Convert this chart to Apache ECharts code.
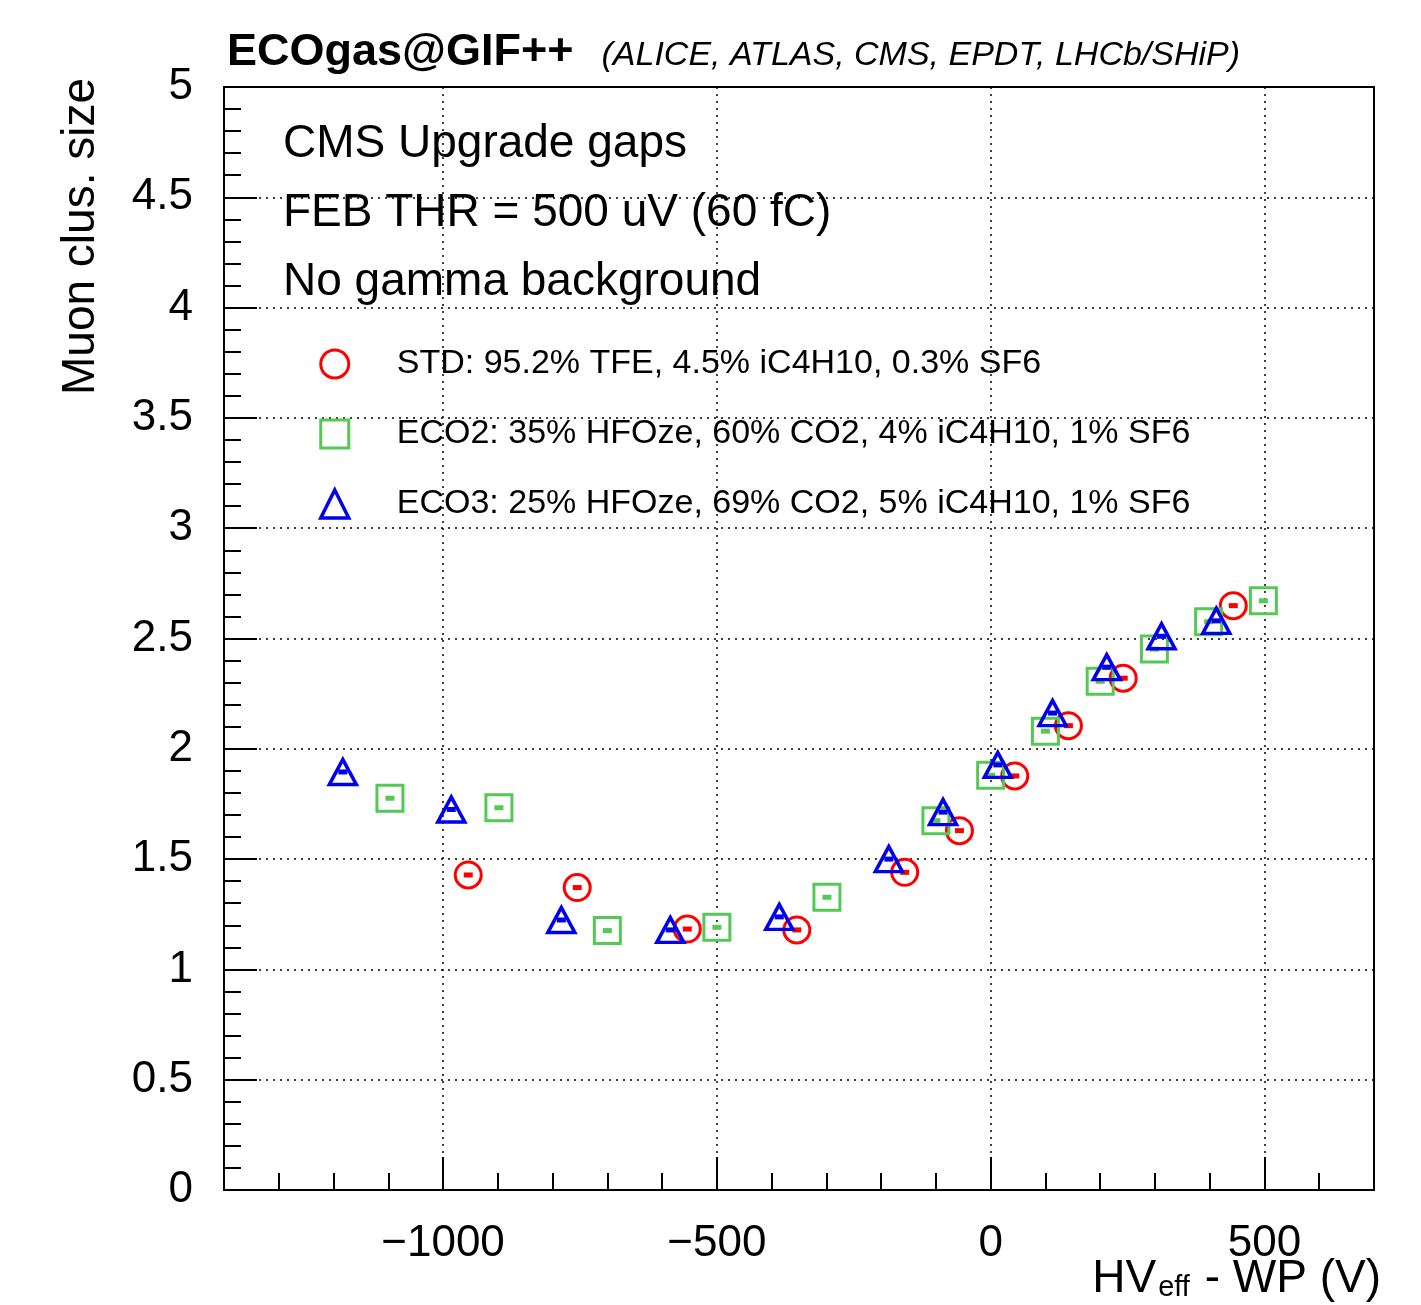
<!DOCTYPE html>
<html>
<head>
<meta charset="utf-8">
<script src="https://cdn.jsdelivr.net/npm/echarts@6/dist/echarts.min.js"></script>
<style>
  html, body { margin: 0; padding: 0; background: #fff; }
  #chart { width: 1421px; height: 1305px; }
</style>
</head>
<body>
<div id="chart"></div>
<script>
const stdX = [-954, -755, -554, -354, -157, -57, 44, 142, 242, 443];
const stdY = [1.428, 1.371, 1.183, 1.179, 1.44, 1.629, 1.877, 2.105, 2.32, 2.649];
const eco2X = [-1097, -898, -700, -500, -299, -100, 0, 100, 200, 299, 398, 498];
const eco2Y = [1.776, 1.733, 1.176, 1.191, 1.327, 1.674, 1.88, 2.08, 2.306, 2.452, 2.576, 2.671];
const eco3X = [-1183, -985, -784, -585, -386, -186, -87, 13, 113, 212, 312, 412];
const eco3Y = [1.895, 1.725, 1.224, 1.179, 1.238, 1.5, 1.713, 1.927, 2.162, 2.37, 2.51, 2.58];

const seriesNames = [
  "STD: 95.2% TFE, 4.5% iC4H10, 0.3% SF6",
  "ECO2: 35% HFOze, 60% CO2, 4% iC4H10, 1% SF6",
  "ECO3: 25% HFOze, 69% CO2, 5% iC4H10, 1% SF6"
];
const infoLines = ["CMS Upgrade gaps", "FEB THR = 500 uV (60 fC)", "No gamma background"];

const RED = "#ff0000", GREEN = "#55c855", BLUE = "#0000ee";
const FONT = "Liberation Sans";

const pairs = (xs, ys) => xs.map((x, i) => [x, ys[i]]);

function markerSeries(name, xs, ys, symbol, size, color, bw) {
  return {
    name: name,
    type: "scatter",
    symbol: symbol,
    symbolSize: size,
    data: pairs(xs, ys),
    itemStyle: { color: "rgba(0,0,0,0)", borderColor: color, borderWidth: bw, opacity: 1 },
    emphasis: { disabled: true }
  };
}
// small dash drawn at the centre of each marker
function dashSeries(xs, ys, color) {
  return {
    type: "scatter",
    symbol: "rect",
    symbolSize: [9, 5],
    data: pairs(xs, ys),
    itemStyle: { color: color, opacity: 1 },
    emphasis: { disabled: true }
  };
}

const chart = echarts.init(document.getElementById("chart"));

const gridLine = { show: true, lineStyle: { color: "#000", width: 1.5, type: [2, 5] } };

chart.setOption({
  animation: false,
  textStyle: { fontFamily: FONT },
  title: {
    left: 222,
    top: 25,
    text: "{a|ECOgas@GIF++}{b|(ALICE, ATLAS, CMS, EPDT, LHCb/SHiP)}",
    textStyle: {
      rich: {
        a: { fontFamily: FONT, fontSize: 45, fontWeight: "bold", color: "#000" },
        b: { fontFamily: FONT, fontSize: 34, fontStyle: "italic", fontWeight: "normal", color: "#000", padding: [6, 0, 0, 28] }
      }
    }
  },
  grid: {
    left: 224, right: 47, top: 87, bottom: 115,
    show: true, borderColor: "#000", borderWidth: 2, backgroundColor: "#fff"
  },
  legend: {
    orient: "vertical",
    left: 314,
    top: 342,
    itemWidth: 28,
    itemHeight: 28,
    itemGap: 36,
    selectedMode: false,
    textStyle: { fontFamily: FONT, fontSize: 34, color: "#000", lineHeight: 34, padding: [0, 0, 0, 43] },
    data: [
      { name: seriesNames[0], icon: "circle", itemStyle: { color: "rgba(0,0,0,0)", borderColor: RED, borderWidth: 3 } },
      { name: seriesNames[1], icon: "rect", itemStyle: { color: "rgba(0,0,0,0)", borderColor: GREEN, borderWidth: 3 } },
      { name: seriesNames[2], icon: "triangle", itemStyle: { color: "rgba(0,0,0,0)", borderColor: BLUE, borderWidth: 3.5 } }
    ]
  },
  xAxis: {
    type: "value",
    min: -1400,
    max: 700,
    axisLine: { show: true, onZero: false, lineStyle: { color: "#000", width: 2 } },
    axisTick: { show: true, inside: true, length: 33, lineStyle: { color: "#000", width: 2 } },
    minorTick: { show: true, splitNumber: 5, length: 17, lineStyle: { color: "#000", width: 2 } },
    splitLine: gridLine,
    axisLabel: {
      showMinLabel: false, showMaxLabel: false,
      margin: 32, fontSize: 44, color: "#000", fontFamily: FONT,
      formatter: (v) => String(v).replace("-", "\u2212")
    }
  },
  yAxis: {
    type: "value",
    min: 0,
    max: 5,
    interval: 0.5,
    axisLine: { show: true, onZero: false, lineStyle: { color: "#000", width: 2 } },
    axisTick: { show: true, inside: true, length: 33, lineStyle: { color: "#000", width: 2 } },
    minorTick: { show: true, splitNumber: 5, length: 17, lineStyle: { color: "#000", width: 2 } },
    splitLine: gridLine,
    axisLabel: { margin: 31, fontSize: 44, color: "#000", fontFamily: FONT }
  },
  graphic: [
    {
      type: "text", left: 58, top: 78,
      style: { text: "Muon clus. size", font: "46px " + FONT, fill: "#000" },
      rotation: Math.PI / 2, originX: 0, originY: 0
    },
    {
      type: "text", right: 40, top: 1256,
      style: {
        text: "{m|HV}{s|eff}{m| - WP (V)}",
        rich: {
          m: { fontSize: 46, fontFamily: FONT, fill: "#000", verticalAlign: "bottom" },
          s: { fontSize: 29, fontFamily: FONT, fill: "#000", padding: [0, 2, -18, 2] }
        }
      }
    },
    ...infoLines.map((t, i) => ({
      type: "text", left: 283, top: 121 + i * 69,
      style: { text: t, font: "46px " + FONT, fill: "#000" }
    }))
  ],
  series: [
    markerSeries(seriesNames[0], stdX, stdY, "circle", 26, RED, 3),
    dashSeries(stdX, stdY, RED),
    markerSeries(seriesNames[1], eco2X, eco2Y, "rect", 26, GREEN, 3),
    dashSeries(eco2X, eco2Y, GREEN),
    markerSeries(seriesNames[2], eco3X, eco3Y, "triangle", [27, 25], BLUE, 3.5),
    dashSeries(eco3X, eco3Y, BLUE)
  ]
});
</script>
</body>
</html>
